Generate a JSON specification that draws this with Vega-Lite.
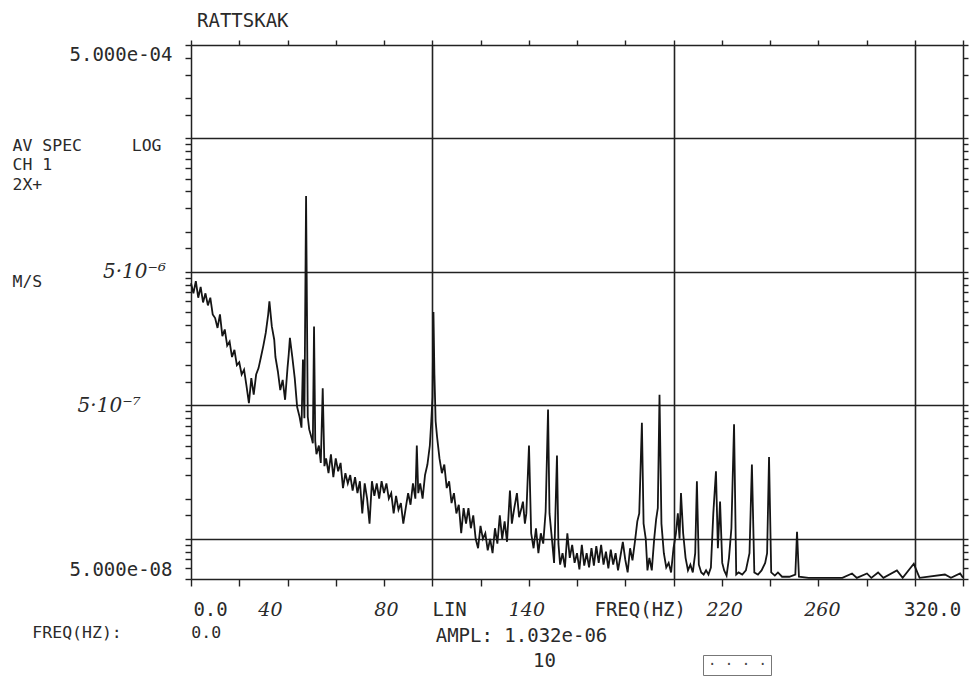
{
  "$schema": "https://vega.github.io/schema/vega-lite/v6.json",
  "width": 772,
  "height": 534,
  "autosize": {"type": "none"},
  "padding": {"left": 191, "top": 45, "right": 13, "bottom": 101},
  "background": "white",
  "title": {"text": "RATTSKAK", "anchor": "start", "frame": "group", "font": "DejaVu Sans Mono", "fontSize": 19, "fontWeight": "normal", "color": "#2a2a2a", "offset": 8, "dx": 6},
  "data": {"values": [
    {"hz":0,"amp":8.2e-6},{"hz":1,"amp":6.9e-6},{"hz":2,"amp":8.5e-6},{"hz":3,"amp":6.4e-6},{"hz":4,"amp":7.7e-6},{"hz":5,"amp":5.9e-6},{"hz":6,"amp":6.9e-6},{"hz":7,"amp":5.6e-6},{"hz":8,"amp":6.4e-6},{"hz":9,"amp":4.8e-6},
    {"hz":10,"amp":4.5e-6},{"hz":11,"amp":3.8e-6},{"hz":12,"amp":4.8e-6},{"hz":13,"amp":3.3e-6},{"hz":14,"amp":3.7e-6},{"hz":15,"amp":2.8e-6},{"hz":16,"amp":3.0e-6},{"hz":17,"amp":2.3e-6},{"hz":18,"amp":2.6e-6},{"hz":19,"amp":2.0e-6},
    {"hz":20,"amp":2.1e-6},{"hz":21,"amp":1.7e-6},{"hz":22,"amp":1.85e-6},{"hz":23,"amp":1.4e-6},{"hz":24,"amp":1.04e-6},{"hz":25,"amp":1.6e-6},{"hz":26,"amp":1.2e-6},{"hz":27,"amp":1.7e-6},{"hz":28,"amp":1.9e-6},{"hz":29,"amp":2.3e-6},
    {"hz":30,"amp":2.8e-6},{"hz":31,"amp":3.5e-6},{"hz":32,"amp":4.8e-6},{"hz":32.5,"amp":6.0e-6},{"hz":33.5,"amp":3.9e-6},{"hz":34.5,"amp":3.1e-6},{"hz":35,"amp":2.3e-6},{"hz":36,"amp":1.8e-6},{"hz":37,"amp":1.3e-6},{"hz":38,"amp":1.55e-6},
    {"hz":39,"amp":1.1e-6},{"hz":40,"amp":1.9e-6},{"hz":40.5,"amp":2.4e-6},{"hz":41,"amp":3.2e-6},{"hz":41.5,"amp":2.7e-6},{"hz":42,"amp":2.3e-6},{"hz":43,"amp":1.6e-6},{"hz":44,"amp":9.7e-7},{"hz":45,"amp":8.2e-7},{"hz":45.8,"amp":6.8e-7},
    {"hz":46.4,"amp":2.2e-6},{"hz":47,"amp":8e-7},{"hz":47.7,"amp":3.7e-5},{"hz":48.4,"amp":8.2e-7},{"hz":49,"amp":6.6e-7},{"hz":50,"amp":5.7e-7},{"hz":50.5,"amp":5.2e-7},{"hz":51,"amp":3.9e-6},{"hz":51.5,"amp":5.4e-7},{"hz":52,"amp":4.3e-7},
    {"hz":53,"amp":5.0e-7},{"hz":53.8,"amp":3.7e-7},{"hz":54.6,"amp":1.34e-6},{"hz":55.3,"amp":3.5e-7},{"hz":56,"amp":4.0e-7},{"hz":57,"amp":3.1e-7},{"hz":58,"amp":4.3e-7},{"hz":59,"amp":2.9e-7},{"hz":60,"amp":4.0e-7},{"hz":61,"amp":3.2e-7},
    {"hz":62,"amp":3.7e-7},{"hz":63,"amp":2.4e-7},{"hz":64,"amp":3.1e-7},{"hz":65,"amp":2.6e-7},{"hz":66,"amp":3.0e-7},{"hz":67,"amp":2.3e-7},{"hz":68,"amp":2.9e-7},{"hz":69,"amp":2.2e-7},{"hz":70,"amp":2.7e-7},{"hz":71,"amp":1.55e-7},
    {"hz":72,"amp":2.6e-7},{"hz":73,"amp":2.0e-7},{"hz":74,"amp":1.3e-7},{"hz":75,"amp":2.7e-7},{"hz":76,"amp":2.1e-7},{"hz":77,"amp":2.6e-7},{"hz":78,"amp":2.0e-7},{"hz":79,"amp":2.7e-7},{"hz":80,"amp":2.2e-7},{"hz":81,"amp":2.6e-7},
    {"hz":82,"amp":2.0e-7},{"hz":83,"amp":2.2e-7},{"hz":84,"amp":1.55e-7},{"hz":85,"amp":2.1e-7},{"hz":86,"amp":1.65e-7},{"hz":87,"amp":1.85e-7},{"hz":88,"amp":1.3e-7},{"hz":89,"amp":1.7e-7},{"hz":90,"amp":2.2e-7},{"hz":91,"amp":1.8e-7},
    {"hz":92,"amp":2.6e-7},{"hz":93,"amp":2.0e-7},{"hz":93.6,"amp":5.0e-7},{"hz":94.2,"amp":2.2e-7},{"hz":95,"amp":2.6e-7},{"hz":96,"amp":2.0e-7},{"hz":97,"amp":3.0e-7},{"hz":98,"amp":3.6e-7},{"hz":99,"amp":5.0e-7},{"hz":99.6,"amp":7.6e-7},
    {"hz":100.1,"amp":1.15e-6},{"hz":100.5,"amp":5.0e-6},{"hz":100.9,"amp":1.7e-6},{"hz":101.4,"amp":7.6e-7},{"hz":102,"amp":5.8e-7},{"hz":103,"amp":4.0e-7},{"hz":104,"amp":3.1e-7},{"hz":105,"amp":3.6e-7},{"hz":106,"amp":2.4e-7},{"hz":107,"amp":2.7e-7},
    {"hz":108,"amp":1.85e-7},{"hz":109,"amp":2.2e-7},{"hz":110,"amp":1.55e-7},{"hz":111,"amp":1.8e-7},{"hz":112,"amp":1.1e-7},{"hz":113,"amp":1.7e-7},{"hz":114,"amp":1.3e-7},{"hz":115,"amp":1.7e-7},{"hz":116,"amp":1.2e-7},{"hz":117,"amp":1.5e-7},
    {"hz":118,"amp":1.0e-7},{"hz":119,"amp":8.5e-8},{"hz":120,"amp":1.25e-7},{"hz":121,"amp":1.0e-7},{"hz":122,"amp":1.1e-7},{"hz":123,"amp":8.2e-8},{"hz":124,"amp":1.0e-7},{"hz":125,"amp":7.8e-8},{"hz":126,"amp":1.2e-7},{"hz":127,"amp":9.2e-8},
    {"hz":128,"amp":1.5e-7},{"hz":129,"amp":1.0e-7},{"hz":130,"amp":1.35e-7},{"hz":131,"amp":9.5e-8},{"hz":132.2,"amp":2.3e-7},{"hz":133,"amp":1.3e-7},{"hz":134,"amp":1.7e-7},{"hz":135.1,"amp":2.2e-7},{"hz":136,"amp":1.45e-7},{"hz":137,"amp":1.7e-7},
    {"hz":137.6,"amp":1.9e-7},{"hz":138.4,"amp":1.3e-7},{"hz":139,"amp":1.55e-7},{"hz":140.1,"amp":5.0e-7},{"hz":141,"amp":1.1e-7},{"hz":142,"amp":8.5e-8},{"hz":143,"amp":1.2e-7},{"hz":144,"amp":7.8e-8},{"hz":145,"amp":1.1e-7},{"hz":146,"amp":9.2e-8},
    {"hz":147,"amp":1.6e-7},{"hz":148,"amp":9.3e-7},{"hz":148.6,"amp":1.55e-7},{"hz":149.6,"amp":1.0e-7},{"hz":150.5,"amp":6.6e-8},{"hz":151.7,"amp":4.2e-7},{"hz":152.3,"amp":9.2e-8},{"hz":153,"amp":6.4e-8},{"hz":154,"amp":7.8e-8},{"hz":155,"amp":6.1e-8},
    {"hz":156,"amp":1.1e-7},{"hz":157,"amp":7.2e-8},{"hz":158,"amp":9e-8},{"hz":159,"amp":6.6e-8},{"hz":160,"amp":7.8e-8},{"hz":161,"amp":5.9e-8},{"hz":162,"amp":9e-8},{"hz":163,"amp":6.3e-8},{"hz":164,"amp":7.8e-8},{"hz":165,"amp":6.1e-8},
    {"hz":166,"amp":8.5e-8},{"hz":167,"amp":6.3e-8},{"hz":168,"amp":8.8e-8},{"hz":169,"amp":6.6e-8},{"hz":170,"amp":9e-8},{"hz":171,"amp":6.4e-8},{"hz":172,"amp":8e-8},{"hz":173,"amp":6e-8},{"hz":174,"amp":8.3e-8},{"hz":175,"amp":6.4e-8},
    {"hz":176,"amp":7.8e-8},{"hz":177,"amp":5.8e-8},{"hz":178,"amp":7.4e-8},{"hz":179,"amp":9.5e-8},{"hz":180,"amp":7e-8},{"hz":181,"amp":5.6e-8},{"hz":182,"amp":8.5e-8},{"hz":183,"amp":6.9e-8},{"hz":184,"amp":9.5e-8},{"hz":185,"amp":1.35e-7},
    {"hz":185.8,"amp":1.55e-7},{"hz":186.9,"amp":7.4e-7},{"hz":187.6,"amp":1.3e-7},{"hz":188.5,"amp":1e-7},{"hz":189.2,"amp":5.8e-8},{"hz":190,"amp":7.2e-8},{"hz":191,"amp":5.8e-8},{"hz":192,"amp":1e-7},{"hz":192.8,"amp":1.4e-7},{"hz":193.5,"amp":1.7e-7},
    {"hz":194.2,"amp":1.2e-6},{"hz":195,"amp":1.3e-7},{"hz":196,"amp":7.8e-8},{"hz":197,"amp":6.1e-8},{"hz":198,"amp":6.6e-8},{"hz":199,"amp":5.6e-8},{"hz":200,"amp":8.5e-8},{"hz":201,"amp":1.1e-7},{"hz":201.8,"amp":1.55e-7},{"hz":202.5,"amp":1.0e-7},
    {"hz":203.1,"amp":2.2e-7},{"hz":204,"amp":1.1e-7},{"hz":205,"amp":7.2e-8},{"hz":206,"amp":5.8e-8},{"hz":207,"amp":6.4e-8},{"hz":208,"amp":5.6e-8},{"hz":209,"amp":7.8e-8},{"hz":209.7,"amp":2.7e-7},{"hz":210.5,"amp":6.4e-8},{"hz":211.5,"amp":5.6e-8},
    {"hz":212.5,"amp":5.4e-8},{"hz":213.5,"amp":5.8e-8},{"hz":214.5,"amp":5.4e-8},{"hz":215.5,"amp":6.1e-8},{"hz":216.5,"amp":1.55e-7},{"hz":217.6,"amp":3.2e-7},{"hz":218.4,"amp":8.5e-8},{"hz":219.3,"amp":1.9e-7},{"hz":220.2,"amp":6.6e-8},{"hz":221,"amp":5.8e-8},
    {"hz":222,"amp":5.3e-8},{"hz":223,"amp":7.2e-8},{"hz":224,"amp":1.2e-7},{"hz":225.1,"amp":7.2e-7},{"hz":226,"amp":5.4e-8},{"hz":227,"amp":5.6e-8},{"hz":228.5,"amp":5.4e-8},{"hz":230,"amp":5.8e-8},{"hz":231.5,"amp":7.8e-8},{"hz":232.5,"amp":3.6e-7},
    {"hz":233.5,"amp":5.6e-8},{"hz":235,"amp":5.4e-8},{"hz":236.5,"amp":5.8e-8},{"hz":238,"amp":6.6e-8},{"hz":238.8,"amp":7.8e-8},{"hz":239.6,"amp":4.1e-7},{"hz":240.5,"amp":5.6e-8},{"hz":242,"amp":5.3e-8},{"hz":243.3,"amp":5.6e-8},{"hz":245,"amp":5.2e-8},
    {"hz":248,"amp":5.2e-8},{"hz":250.5,"amp":5.4e-8},{"hz":251.2,"amp":1.13e-7},{"hz":252,"amp":5.2e-8},{"hz":256,"amp":5.1e-8},{"hz":260,"amp":5.1e-8},{"hz":265,"amp":5.1e-8},{"hz":270,"amp":5.1e-8},{"hz":274,"amp":5.5e-8},{"hz":276,"amp":5.1e-8},
    {"hz":280.2,"amp":5.5e-8},{"hz":282,"amp":5.1e-8},{"hz":284.8,"amp":5.6e-8},{"hz":287,"amp":5.1e-8},{"hz":292.6,"amp":5.8e-8},{"hz":295,"amp":5.1e-8},{"hz":299.6,"amp":6.5e-8},{"hz":302,"amp":5.1e-8},{"hz":312.5,"amp":5.4e-8},{"hz":315,"amp":5.1e-8},
    {"hz":318.8,"amp":5.5e-8},{"hz":320,"amp":5.1e-8}
  ]},
  "layer": [
    {
      "mark": {"type": "line", "strokeWidth": 1.8, "interpolate": "linear"},
      "encoding": {
        "x": {
          "field": "hz", "type": "quantitative",
          "scale": {"domain": [0, 320], "nice": false, "zero": false},
          "axis": {
            "orient": "bottom",
            "values": [0,20,40,60,80,100,120,140,160,180,200,220,240,260,280,300,320,7.9,32.7,80.8,107,139,186,221,261.5,307.2],
            "labelExpr": "datum.value == 7.9 ? '0.0' : datum.value == 32.7 ? '40' : datum.value == 80.8 ? '80' : datum.value == 107 ? 'LIN' : datum.value == 139 ? '140' : datum.value == 186 ? 'FREQ(HZ)' : datum.value == 221 ? '220' : datum.value == 261.5 ? '260' : datum.value == 307.2 ? '320.0' : ''",
            "labelOverlap": false,
            "labelFlush": false,
            "labelBound": false,
            "labelFont": {"condition": {"test": "indexof([32.7,80.8,139,221,261.5], datum.value) >= 0", "value": "DejaVu Serif"}, "value": "DejaVu Sans Mono"},
            "labelFontStyle": {"condition": {"test": "indexof([32.7,80.8,139,221,261.5], datum.value) >= 0", "value": "italic"}, "value": "normal"},
            "labelFontSize": 19,
            "labelBaseline": "top",
            "labelPadding": 14,
            "tickSize": 7,
            "tickOpacity": {"condition": {"test": "datum.value % 20 == 0", "value": 1}, "value": 0},
            "grid": true,
            "gridOpacity": {"condition": {"test": "datum.value == 100 || datum.value == 200 || datum.value == 300", "value": 1}, "value": 0},
            "gridColor": "#222",
            "gridWidth": 1.6,
            "title": ["AMPL: 1.032e-06", "\u200b\u00a0\u00a0\u00a0\u00a010"],
            "titleFont": "DejaVu Sans Mono",
            "titleFontSize": 19,
            "titleFontWeight": "normal",
            "titleAlign": "center",
            "titleBaseline": "top",
            "titleLineHeight": 25,
            "titleX": 330,
            "titleY": 47
          }
        },
        "y": {
          "field": "amp", "type": "quantitative",
          "scale": {"type": "log", "domain": [5e-8, 5e-4], "nice": false},
          "axis": {
            "orient": "left",
            "values": [5e-8,6e-8,7e-8,8e-8,9e-8,1e-7,1.5e-7,2e-7,3e-7,4e-7,5e-7,6e-7,7e-7,8e-7,9e-7,1e-6,1.5e-6,2e-6,3e-6,4e-6,5e-6,6e-6,7e-6,8e-6,9e-6,1e-5,1.5e-5,2e-5,3e-5,4e-5,5e-5,6e-5,7e-5,8e-5,9e-5,1e-4,1.5e-4,2e-4,3e-4,4e-4,5e-4],
            "labelExpr": "datum.value == 5e-4 ? '5.000e-04' : datum.value == 5e-8 ? '5.000e-08' : datum.value == 1e-5 ? '5·10⁻⁶\u00a0\u200b' : datum.value == 1e-6 ? '5·10⁻⁷\u00a0\u00a0\u00a0\u00a0\u00a0\u200b' : ''",
            "labelOverlap": false,
            "labelFlush": false,
            "labelBound": false,
            "labelFont": {"condition": {"test": "datum.value == 1e-5 || datum.value == 1e-6", "value": "DejaVu Serif"}, "value": "DejaVu Sans Mono"},
            "labelFontStyle": {"condition": {"test": "datum.value == 1e-5 || datum.value == 1e-6", "value": "italic"}, "value": "normal"},
            "labelFontSize": {"condition": {"test": "datum.value == 1e-5 || datum.value == 1e-6", "value": 20}, "value": 19},
            "labelBaseline": {"condition": [{"test": "datum.value == 5e-4", "value": "top"}, {"test": "datum.value == 5e-8", "value": "bottom"}], "value": "middle"},
            "labelPadding": 13,
            "tickSize": 6,
            "grid": true,
            "gridOpacity": {"condition": {"test": "datum.value == 1e-7 || datum.value == 1e-6 || datum.value == 1e-5 || datum.value == 1e-4", "value": 1}, "value": 0},
            "gridColor": "#222",
            "gridWidth": 1.6,
            "title": ["AV SPEC\u00a0\u00a0\u00a0\u00a0\u00a0LOG", "CH 1", "2X+", "\u200b", "\u200b", "\u200b", "\u200b", "M/S", "\u200b", "\u200b", "\u200b", "\u200b", "\u200b", "\u200b", "\u200b", "\u200b", "\u200b", "\u200b", "\u200b", "\u200b", "\u200b", "\u200b", "\u200b", "\u200b", "\u200b", "\u200b\u00a0\u00a0FREQ(HZ):\u00a0\u00a0\u00a0\u00a0\u00a0\u00a0\u00a00.0"],
            "titleFont": "DejaVu Sans Mono",
            "titleFontSize": 16.5,
            "titleFontWeight": "normal",
            "titleAngle": 0,
            "titleAlign": "left",
            "titleBaseline": "top",
            "titleLineHeight": 19.5,
            "titleX": -179,
            "titleY": 92
          }
        },
        "color": {
          "datum": "· · · ·",
          "scale": {"range": ["#151515"]},
          "legend": {
            "orient": "none",
            "legendX": 512,
            "legendY": 610,
            "title": null,
            "strokeColor": "#777",
            "padding": 3,
            "symbolSize": 0,
            "symbolOpacity": 0,
            "symbolStrokeWidth": 0,
            "labelOffset": -12,
            "labelFont": "DejaVu Sans Mono",
            "labelFontSize": 14,
            "labelColor": "#444"
          }
        }
      }
    },
    {
      "mark": {"type": "line", "opacity": 0},
      "encoding": {
        "x": {
          "field": "hz", "type": "quantitative",
          "axis": {"orient": "top", "values": [0,20,40,60,80,100,120,140,160,180,200,220,240,260,280,300,320], "labels": false, "tickSize": 5, "grid": false, "title": null}
        },
        "y": {
          "field": "amp", "type": "quantitative",
          "axis": {"orient": "right", "values": [5e-8,6e-8,7e-8,8e-8,9e-8,1e-7,1.5e-7,2e-7,3e-7,4e-7,5e-7,6e-7,7e-7,8e-7,9e-7,1e-6,1.5e-6,2e-6,3e-6,4e-6,5e-6,6e-6,7e-6,8e-6,9e-6,1e-5,1.5e-5,2e-5,3e-5,4e-5,5e-5,6e-5,7e-5,8e-5,9e-5,1e-4,1.5e-4,2e-4,3e-4,4e-4,5e-4], "labels": false, "tickSize": 5, "grid": false, "title": null}
        }
      }
    }
  ],
  "resolve": {"axis": {"x": "independent", "y": "independent"}},
  "config": {
    "view": {"stroke": null},
    "axis": {"domainColor": "#222", "domainWidth": 1.5, "tickColor": "#222", "tickWidth": 1.4, "labelColor": "#2a2a2a", "titleColor": "#2a2a2a"}
  }
}
